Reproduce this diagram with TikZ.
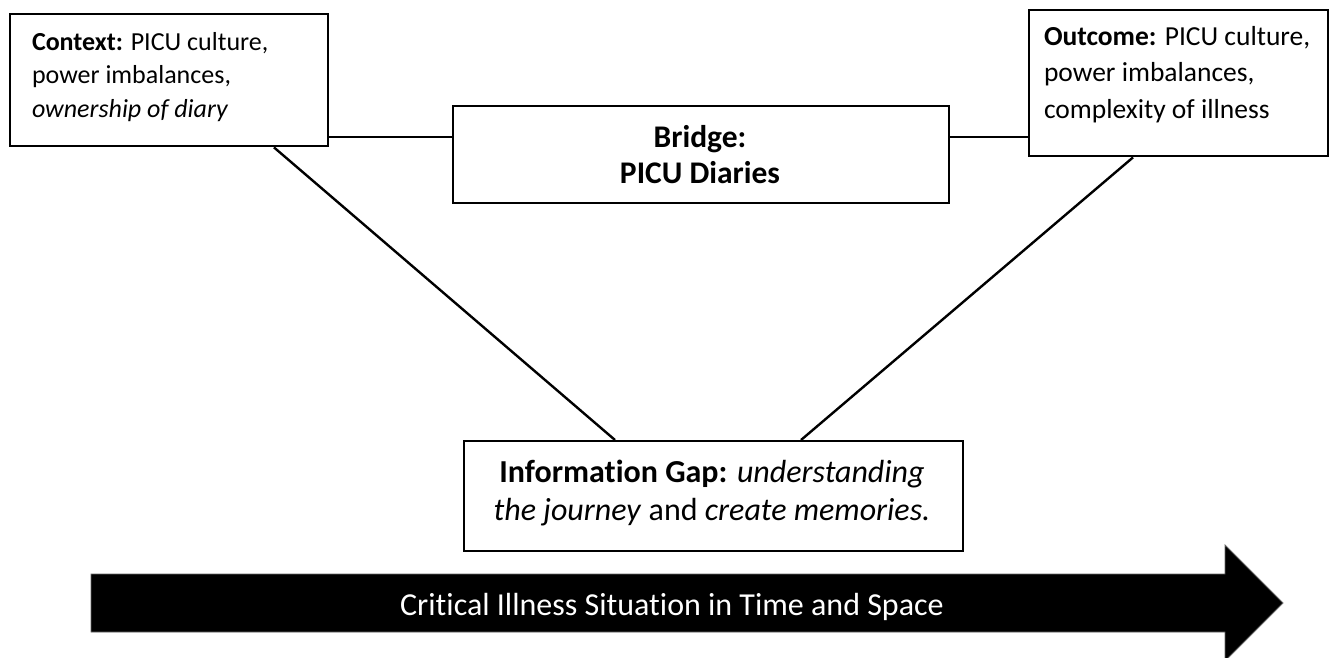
\documentclass[tikz,border=0pt]{standalone}
\usepackage{fontspec}
\setmainfont{Carlito}[Ligatures=NoCommon]
\usetikzlibrary{calc}
\begin{document}
\begin{tikzpicture}[x=1pt,y=-1pt,
  box/.style={draw=black, line width=2.4pt, fill=white, inner sep=0pt},
  conn/.style={draw=black, line width=2.4pt},
  txt/.style={inner sep=0pt, outer sep=0pt}]
\useasboundingbox (0,0) rectangle (1333,657);
% arrow
\path[fill=black, draw=black!60, line width=0.8pt]
  (91,574) -- (1225,574) -- (1225,545) -- (1283,603) -- (1225,661) -- (1225,632) -- (91,632) -- cycle;
\node[txt, anchor=base, text=white, font=\fontsize{32}{38}\selectfont] (arrowtext) at (672,615) {Critical Illness Situation in Time and Space};
% boxes
\coordinate (hl) at (0,137);
\node[box, anchor=north west, minimum width=318pt, minimum height=132pt] (ctx) at (9,13) {};
\node[box, anchor=north west, minimum width=299pt, minimum height=146pt] (out) at (1028,9) {};
\node[box, anchor=north west, minimum width=496pt, minimum height=97pt] (bridge) at (452,105) {};
\node[box, anchor=north west, minimum width=499pt, minimum height=110pt] (gap) at (463,440) {};
% connectors
\draw[conn] (ctx.east |- hl) -- (bridge.west |- hl);
\draw[conn] (bridge.east |- hl) -- (out.west |- hl);
\draw[conn] ($(ctx.south west)+(265,0)$) -- ($(gap.north west)+(152,0)$);
\draw[conn] ($(out.south west)+(105,0)$) -- ($(gap.north west)+(338,0)$);
% texts
\node[txt, anchor=base west] (ctxt) at (32,50) {\parbox[t]{290pt}{\raggedright\fontsize{26}{33.5}\selectfont\textbf{Context:} PICU culture,\\ power imbalances,\\ \textit{ownership of diary}}};
\node[txt, anchor=base west] (outt) at (1044,45) {\parbox[t]{285pt}{\raggedright\fontsize{27.5}{36.5}\selectfont\textbf{Outcome:} PICU culture,\\ power imbalances,\\ complexity of illness}};
\node[txt, anchor=base] (bridget) at (700,147) {\parbox[t]{480pt}{\centering\fontsize{31.5}{36.5}\selectfont\bfseries Bridge:\\ PICU Diaries}};
\node[txt, anchor=base] (gapt) at (712,482) {\parbox[t]{490pt}{\centering\fontsize{32}{38}\selectfont\textbf{Information Gap:} \textit{understanding}\\ \textit{the journey} and \textit{create memories.}}};
\end{tikzpicture}
\end{document}
